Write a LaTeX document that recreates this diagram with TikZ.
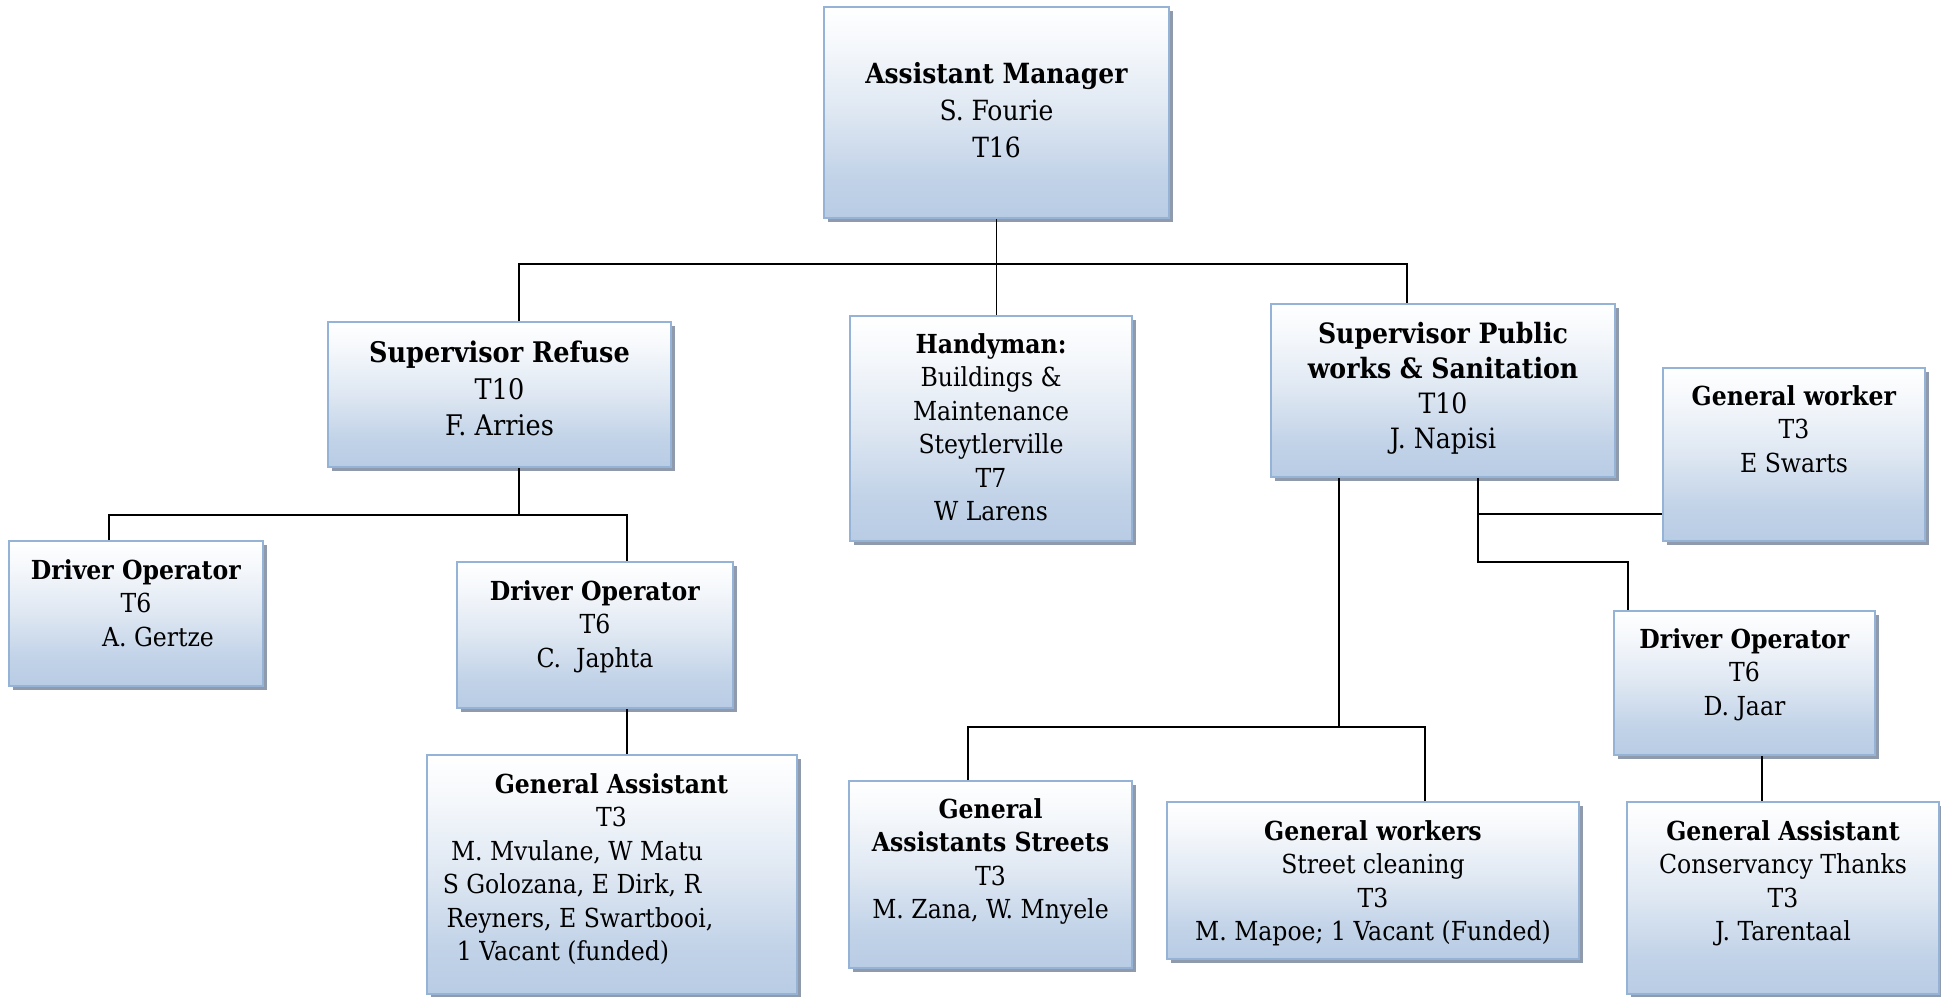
\documentclass[tikz,border=0pt]{standalone}
\usepackage{fontspec}
\setmainfont{DejaVu Serif Condensed}
\usetikzlibrary{shadows}

% box colours
\definecolor{boxedge}{RGB}{149,179,215}
\definecolor{boxbot}{RGB}{184,204,228}
\definecolor{boxlow}{RGB}{194,211,232}
\definecolor{boxmid}{RGB}{222,231,242}
\definecolor{boxhigh}{RGB}{244,247,251}
\definecolor{boxshadow}{RGB}{143,155,172}

% vertical fade: white at the top, pale blue at the bottom
\pgfdeclareverticalshading{boxfade}{100bp}{color(0bp)=(boxbot); color(25bp)=(boxbot); color(35bp)=(boxlow); color(50bp)=(boxmid); color(65bp)=(boxhigh); color(75bp)=(white); color(100bp)=(white)}

\tikzset{
  orgbox/.style={rectangle, draw=boxedge, line width=2pt, shading=boxfade, inner sep=0pt,
    general shadow={fill=boxshadow, shadow xshift=3.5pt, shadow yshift=-3.5pt}},
  txt/.style={inner sep=0pt, align=center, anchor=north, font=\fontsize{26.2}{33.5}\selectfont},
  toptxt/.style={txt, font=\fontsize{27.8}{37}\selectfont},
  bigtxt/.style={txt, font=\fontsize{28.4}{36.5}\selectfont},
  midtxt/.style={txt, font=\fontsize{28}{35}\selectfont},
  link/.style={line width=1.6pt, black}
}

\begin{document}
\begin{tikzpicture}[x=1pt, y=-1pt]
\useasboundingbox (0,0) rectangle (1941,996);

% ---- boxes ----
\node[orgbox, minimum width=345pt, minimum height=211pt] (am)  at (996.5,112.5) {};
\node[orgbox, minimum width=343pt, minimum height=145pt] (sr)  at (499.5,394.5) {};
\node[orgbox, minimum width=282pt, minimum height=225pt] (hm)  at (991,428.5) {};
\node[orgbox, minimum width=344pt, minimum height=173pt] (sp)  at (1443,390.5) {};
\node[orgbox, minimum width=262pt, minimum height=173pt] (gw)  at (1794,454.5) {};
\node[orgbox, minimum width=254pt, minimum height=145pt] (dg)  at (136,613.5) {};
\node[orgbox, minimum width=276pt, minimum height=146pt] (dj)  at (595,635) {};
\node[orgbox, minimum width=370pt, minimum height=239pt] (ga)  at (612,874.5) {};
\node[orgbox, minimum width=283pt, minimum height=187pt] (gs)  at (990.5,874.5) {};
\node[orgbox, minimum width=412pt, minimum height=157pt] (gwc) at (1373,880.5) {};
\node[orgbox, minimum width=261pt, minimum height=144pt] (dd)  at (1744.5,683) {};
\node[orgbox, minimum width=312pt, minimum height=192pt] (gc)  at (1783,898) {};

% ---- texts ----
\node[toptxt] (amt) at (996.5,62) {\textbf{Assistant Manager}\\S. Fourie\\T16};
\node[bigtxt] (srt) at (499.5,341) {\textbf{Supervisor Refuse}\\T10\\F. Arries};
\node[txt] (hmt) at (991,333) {\textbf{Handyman:}\\Buildings \&\\Maintenance\\Steytlerville\\T7\\W Larens};
\node[midtxt] (spt) at (1443,322) {\textbf{Supervisor Public}\\\textbf{works \& Sanitation}\\T10\\J. Napisi};
\node[txt] (gwt) at (1794,385) {\textbf{General worker}\\T3\\E Swarts};
\node[txt] (dgt) at (136,559) {\textbf{Driver Operator}\\T6\\\hspace*{44pt}A. Gertze};
\node[txt] (djt) at (595,580) {\textbf{Driver Operator}\\T6\\C.\ \ Japhta};
\node[txt] (gat) at (611.5,773) {\textbf{General Assistant}\\T3\\\hspace*{-69pt}M. Mvulane, W Matu\\\hspace*{-79pt}S Golozana, E Dirk, R\\\hspace*{-63pt}Reyners, E Swartbooi,\\\hspace*{-97pt}1 Vacant (funded)};
\node[txt] (gst) at (990.5,798) {\textbf{General}\\\textbf{Assistants Streets}\\T3\\M. Zana, W. Mnyele};
\node[txt] (gwct) at (1373,820) {\textbf{General workers}\\Street cleaning\\T3\\M. Mapoe; 1 Vacant (Funded)};
\node[txt] (ddt) at (1744.5,628) {\textbf{Driver Operator}\\T6\\D. Jaar};
\node[txt] (gct) at (1783,820) {\textbf{General Assistant}\\Conservancy Thanks\\T3\\J. Tarentaal};

% ---- junction points of the connector lines ----
\coordinate (b1l) at (519,264);
\coordinate (b1r) at (1407,264);
\coordinate (b2l) at (109,515);
\coordinate (b2r) at (627,515);
\coordinate (b3)  at (1339,727);
\coordinate (b3l) at (968,727);
\coordinate (b3r) at (1425,727);
\coordinate (b4)  at (1478,514);
\coordinate (b4b) at (1478,562);
\coordinate (b4r) at (1628,562);
\coordinate (b5)  at (1762,700);

% ---- connectors ----
\draw[link] (am.south) -- (am.south |- hm.north);
\draw[link] (b1l |- sr.north) -- (b1l) -- (b1r) -- (b1r |- sp.north);

\draw[link] (b1l |- sr.south) -- (b1l |- b2l);
\draw[link] (b2l |- dg.north) -- (b2l) -- (b2r) -- (b2r |- dj.north);
\draw[link] (b2r |- dj.south) -- (b2r |- ga.north);

\draw[link] (b3 |- sp.south) -- (b3);
\draw[link] (b3l |- gs.north) -- (b3l) -- (b3r) -- (b3r |- gwc.north);

\draw[link] (b4 |- sp.south) -- (b4b) -- (b4r) -- (b4r |- dd.north);
\draw[link] (b4) -- (b4 -| gw.west);
\draw[link] (b5 |- dd.south) -- (b5 |- gc.north);
\end{tikzpicture}
\end{document}
